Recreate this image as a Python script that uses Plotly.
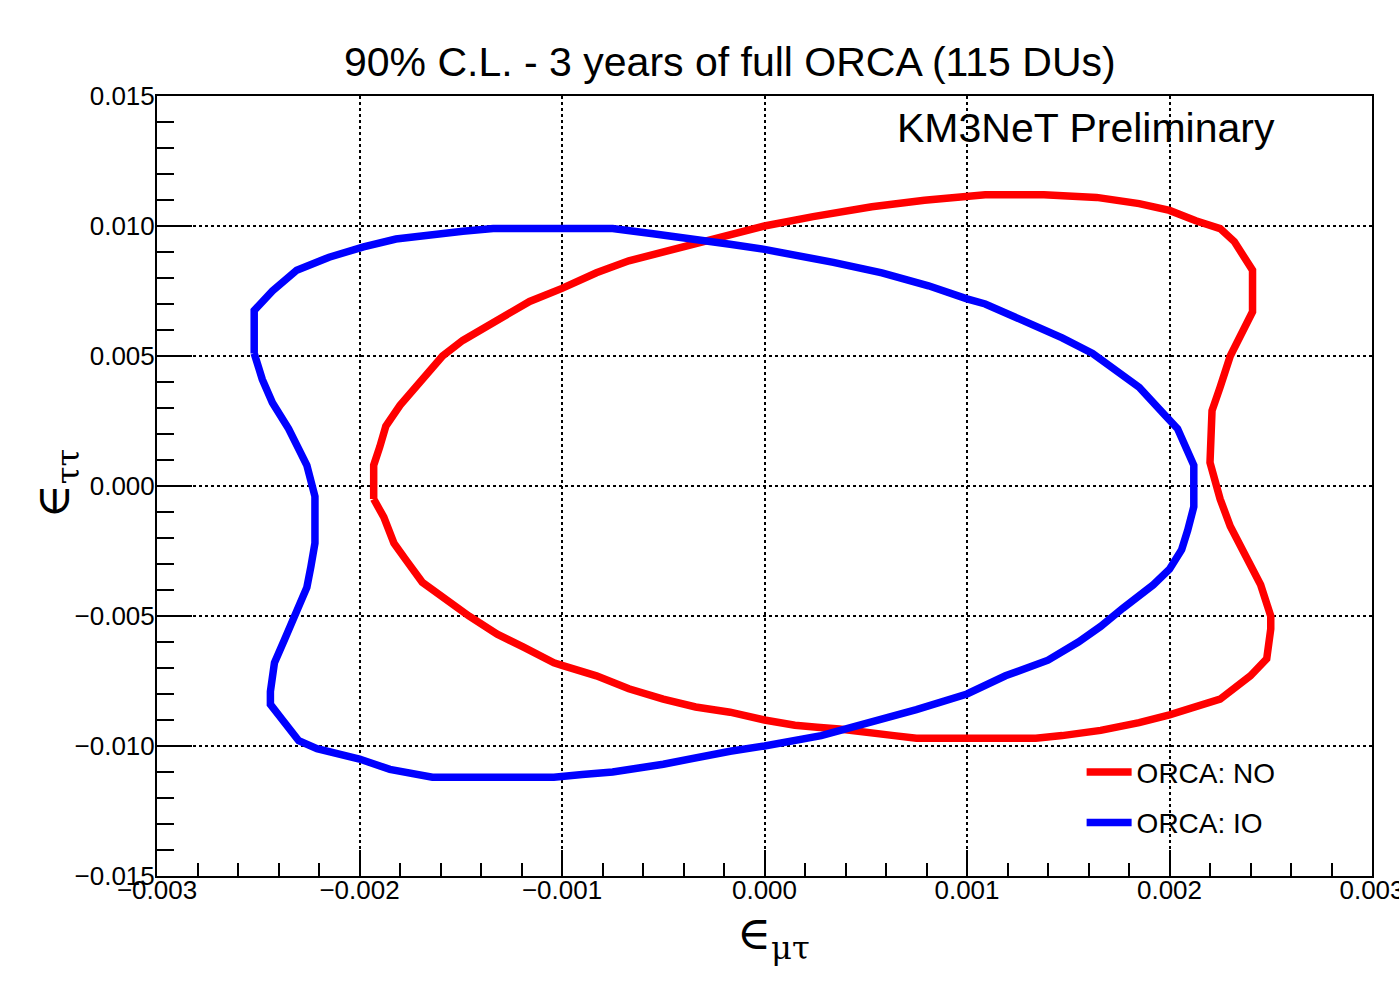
import plotly.graph_objects as go

# ORCA: NO (normal ordering) 90% C.L. contour
no_x = [-0.00193, -0.00193, -0.00190, -0.00187, -0.00180, -0.00172, -0.00159, -0.00149,
        -0.00132, -0.00116, -0.00100, -0.00083, -0.00067, -0.00050, -0.00034, -0.00017,
        0.00000, 0.00024, 0.00053, 0.00079, 0.00100, 0.00109, 0.00138, 0.00164,
        0.00185, 0.00200, 0.00213, 0.00225, 0.00232, 0.00241, 0.00241, 0.00235,
        0.00230, 0.00225, 0.00221, 0.00220, 0.00223, 0.00225, 0.00230, 0.00240,
        0.00245, 0.00250, 0.00250, 0.00248, 0.00240, 0.00225, 0.00213, 0.00200,
        0.00185, 0.00166, 0.00147, 0.00134, 0.00100, 0.00075, 0.00064, 0.00053,
        0.00037, 0.00026, 0.00015, 0.00000, -0.00017, -0.00034, -0.00050, -0.00067,
        -0.00083, -0.00100, -0.00104, -0.00119, -0.00132, -0.00146, -0.00157, -0.00169,
        -0.00177, -0.00183, -0.00188, -0.00193]
no_y = [-0.0005, 0.0008, 0.0015, 0.0023, 0.0031, 0.0038, 0.0050, 0.0056,
        0.0064, 0.0071, 0.0076, 0.0082, 0.00866, 0.0090, 0.0093, 0.0097,
        0.0100, 0.01036, 0.01074, 0.01099, 0.01112, 0.0112, 0.0112, 0.0111,
        0.01086, 0.0106, 0.0102, 0.0099, 0.0094, 0.0083, 0.0067, 0.0057,
        0.0050, 0.0038, 0.0029, 0.0009, 0.0000, -0.0005, -0.00155, -0.0030,
        -0.0038, -0.0050, -0.0055, -0.00665, -0.0073, -0.0082, -0.0085, -0.0088,
        -0.0091, -0.0094, -0.0096, -0.0097, -0.0097, -0.0097, -0.0096, -0.00948,
        -0.00935, -0.00928, -0.0092, -0.0090, -0.0087, -0.0085, -0.0082, -0.0078,
        -0.0073, -0.0069, -0.0068, -0.0062, -0.0057, -0.0050, -0.0044, -0.0037,
        -0.00285, -0.0022, -0.0012, -0.0005]

# ORCA: IO (inverted ordering) 90% C.L. contour
io_x = [-0.00252, -0.00252, -0.00243, -0.00231, -0.00215, -0.00198, -0.00182, -0.00164,
        -0.00149, -0.00134, -0.00100, -0.00075, -0.00055, -0.00034, -0.00017, 0.00000,
        0.00015, 0.00034, 0.00058, 0.00081, 0.00100, 0.00109, 0.00128, 0.00147,
        0.00162, 0.00185, 0.00198, 0.00204, 0.00212, 0.00212, 0.00209, 0.00206,
        0.00200, 0.00192, 0.00177, 0.00166, 0.00155, 0.00140, 0.00119, 0.00100,
        0.00075, 0.00053, 0.00028, 0.00000, -0.00017, -0.00050, -0.00075, -0.00090,
        -0.00104, -0.00123, -0.00164, -0.00185, -0.00200, -0.00221, -0.00230, -0.00238,
        -0.00244, -0.00244, -0.00242, -0.00237, -0.00231, -0.00226, -0.00224, -0.00222,
        -0.00222, -0.00226, -0.00235, -0.00243, -0.00248, -0.00252]
io_y = [0.0051, 0.00675, 0.0075, 0.0083, 0.0088, 0.0092, 0.0095, 0.0097,
        0.0098, 0.0099, 0.0099, 0.0099, 0.0097, 0.0095, 0.0093, 0.0091,
        0.0089, 0.0086, 0.0082, 0.0077, 0.0072, 0.0070, 0.00635, 0.0057,
        0.0051, 0.0038, 0.0027, 0.0022, 0.0008, -0.0008, -0.0017, -0.00245,
        -0.0032, -0.0038, -0.0047, -0.0054, -0.0060, -0.0067, -0.0073, -0.0080,
        -0.0086, -0.0091, -0.0096, -0.0100, -0.0102, -0.0107, -0.0110, -0.0111,
        -0.0112, -0.0112, -0.0112, -0.0109, -0.0105, -0.0101, -0.0098, -0.0090,
        -0.0084, -0.0079, -0.0068, -0.0059, -0.0049, -0.0039, -0.0031, -0.0022,
        -0.0004, 0.0008, 0.0022, 0.0032, 0.0041, 0.0051]

# tick values / labels
x_ticks = [-0.003, -0.002, -0.001, 0.0, 0.001, 0.002, 0.003]
x_labels = ["\u22120.003", "\u22120.002", "\u22120.001", "0.000", "0.001", "0.002", "0.003"]
y_ticks = [-0.015, -0.010, -0.005, 0.0, 0.005, 0.010, 0.015]
y_labels = ["\u22120.015", "\u22120.010", "\u22120.005", "0.000", "0.005", "0.010", "0.015"]

FONT = "Liberation Sans, Arial, sans-serif"

fig = go.Figure()
fig.add_trace(go.Scatter(x=no_x, y=no_y, mode="lines", name="ORCA: NO",
                         line=dict(color="#ff0000", width=7.5), legendgroup="no"))
fig.add_trace(go.Scatter(x=io_x, y=io_y, mode="lines", name="ORCA: IO",
                         line=dict(color="#0000ff", width=7.5), legendgroup="io"))

axis_common = dict(
    showline=True, linecolor="black", linewidth=2, mirror=True,
    ticks="inside", tickcolor="black", tickwidth=2,
    showgrid=True, gridcolor="black", gridwidth=1.5, griddash="dot",
    zeroline=False,
    tickfont=dict(family=FONT, size=26, color="black"),
    tickmode="array",
    ticklabeloverflow="allow",
    automargin=False,
)

fig.update_xaxes(range=[-0.003, 0.003], tickvals=x_ticks, ticktext=x_labels, ticklen=26,
                 minor=dict(ticks="inside", dtick=0.0002, tick0=-0.003, ticklen=13,
                            tickcolor="black", tickwidth=2, showgrid=False),
                 ticklabelstandoff=-10, **axis_common)
fig.update_yaxes(range=[-0.015, 0.015], tickvals=y_ticks, ticktext=y_labels, ticklen=35,
                 minor=dict(ticks="inside", dtick=0.001, tick0=-0.015, ticklen=17,
                            tickcolor="black", tickwidth=2, showgrid=False),
                 ticklabelstandoff=-5, **axis_common)

fig.update_layout(
    width=1399, height=988,
    margin=dict(l=157, r=27, t=96, b=112, autoexpand=False),
    paper_bgcolor="white", plot_bgcolor="white",
    showlegend=True,
    legend=dict(x=0.761, y=0.165, xanchor="left", yanchor="top",
                bgcolor="rgba(0,0,0,0)", borderwidth=0,
                font=dict(family=FONT, size=28, color="black"),
                traceorder="grouped", tracegroupgap=11, itemwidth=45),
    annotations=[
        dict(text="90% C.L. - 3 years of full ORCA (115 DUs)", xref="paper", yref="paper",
             x=0.4716, y=1.0436, xanchor="center", yanchor="middle", showarrow=False,
             font=dict(family=FONT, size=41, color="black")),
        dict(text="KM3NeT Preliminary", xref="paper", yref="paper",
             x=0.6074, y=0.959, xanchor="left", yanchor="middle", showarrow=False,
             font=dict(family=FONT, size=41, color="black")),
        dict(text="\u2208<sub>\u03bc\u03c4</sub>", xref="paper", yref="paper",
             x=0.5075, y=-0.078, xanchor="center", yanchor="middle", showarrow=False,
             font=dict(family="DejaVu Serif", size=46, color="black")),
        dict(text="\u2208<sub>\u03c4\u03c4</sub>", xref="paper", yref="paper",
             x=-0.082, y=0.504, xanchor="center", yanchor="middle", showarrow=False,
             textangle=-90,
             font=dict(family="DejaVu Serif", size=46, color="black")),
    ],
)

fig.write_html("out.html")
